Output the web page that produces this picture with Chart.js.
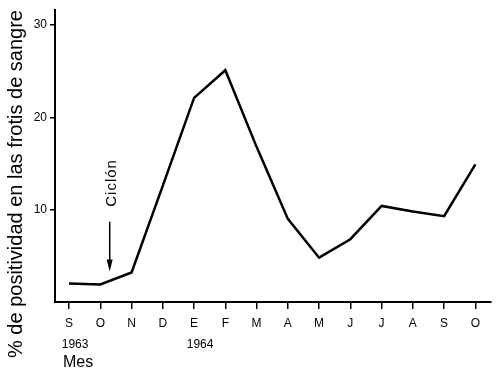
<!DOCTYPE html>
<html lang="es">
<head>
<meta charset="UTF-8">
<title>Positividad en frotis de sangre</title>
<script src="https://cdn.jsdelivr.net/npm/chart.js"></script>
<style>
  html, body { margin: 0; padding: 0; background: #fff; }
</style>
</head>
<body>
<canvas id="chart" width="498" height="379"></canvas>
<script>
// months Sep 1963 - Oct 1964
const months = ['S', 'O', 'N', 'D', 'E', 'F', 'M', 'A', 'M', 'J', 'J', 'A', 'S', 'O'];
const positivity = [2.0, 1.9, 3.2, 12.6, 22.1, 25.1, 16.8, 9.0, 4.8, 6.8, 10.4, 9.8, 9.3, 14.9];
const yTicks = [10, 20, 30];
const yearIdx = [0, 4];
const years = ['1963', '1964'];
const cycloneAt = 1.3;   // between O and N
const yTitle = '% de positividad en las frotis de sangre';
const xTitle = 'Mes';

const FONT = '"Liberation Sans", Arial, sans-serif';

const extras = {
    id: 'extras',
    afterDraw(chart) {
        const { ctx, scales: { x, y } } = chart;
        ctx.save();
        ctx.fillStyle = '#000';
        ctx.strokeStyle = '#000';

        // y axis title
        ctx.save();
        ctx.translate(16, 184);
        ctx.rotate(-Math.PI / 2);
        ctx.font = '20px ' + FONT;
        ctx.textAlign = 'center';
        ctx.textBaseline = 'middle';
        ctx.fillText(yTitle, 0, 0);
        ctx.restore();

        // years under the month labels
        ctx.font = '12px ' + FONT;
        ctx.textAlign = 'center';
        ctx.textBaseline = 'middle';
        yearIdx.forEach((idx, k) => {
            ctx.fillText(years[k], x.getPixelForValue(idx) + 6, 345);
        });

        // x title
        ctx.font = '16px ' + FONT;
        ctx.textAlign = 'left';
        ctx.fillText(xTitle, x.left + 8, 363);

        // cyclone label + arrow
        const cx = x.getPixelForValue(cycloneAt);
        ctx.save();
        ctx.translate(cx + 2, y.getPixelForValue(12.9));
        ctx.rotate(-Math.PI / 2);
        ctx.font = '15px ' + FONT;
        ctx.letterSpacing = '1px';
        ctx.textAlign = 'center';
        ctx.textBaseline = 'middle';
        ctx.fillText('Ciclón', 0, 0);
        ctx.restore();

        const top = y.getPixelForValue(8.7);
        const tip = y.getPixelForValue(3.3);
        ctx.lineWidth = 1.5;
        ctx.beginPath();
        ctx.moveTo(cx, top);
        ctx.lineTo(cx, tip - 8);
        ctx.stroke();
        ctx.beginPath();
        ctx.moveTo(cx - 3, tip - 12);
        ctx.lineTo(cx + 3, tip - 12);
        ctx.lineTo(cx, tip);
        ctx.closePath();
        ctx.fill();

        ctx.restore();
    }
};

new Chart(document.getElementById('chart'), {
    type: 'line',
    data: {
        datasets: [{
            data: positivity.map((v, i) => ({ x: i, y: v })),
            borderColor: '#000',
            borderWidth: 2.5,
            pointRadius: 0,
            tension: 0
        }]
    },
    options: {
        responsive: false,
        animation: false,
        layout: { padding: { top: 5, right: 7, left: 0, bottom: 0 } },
        plugins: { legend: { display: false }, tooltip: { enabled: false } },
        scales: {
            x: {
                type: 'linear',
                min: -0.45,
                max: 13.5,
                afterBuildTicks: s => { s.ticks = months.map((_, i) => ({ value: i })); },
                afterFit: s => { s.height = 77; },
                ticks: {
                    callback: v => months[v],
                    color: '#000',
                    font: { family: FONT, size: 12 },
                    padding: 7,
                    maxRotation: 0,
                    autoSkip: false
                },
                grid: { drawOnChartArea: false, color: '#000', tickLength: 7, lineWidth: 1.5 },
                border: { color: '#000', width: 2 }
            },
            y: {
                min: 0,
                max: 31.6,
                afterBuildTicks: s => { s.ticks = yTicks.map(v => ({ value: v })); },
                afterFit: s => { s.width = 55; },
                ticks: {
                    color: '#000',
                    font: { family: FONT, size: 12 },
                    padding: 3
                },
                grid: { drawOnChartArea: false, color: '#000', tickLength: 5, lineWidth: 1.5 },
                border: { color: '#000', width: 2 }
            }
        }
    },
    plugins: [extras]
});
</script>
</body>
</html>
